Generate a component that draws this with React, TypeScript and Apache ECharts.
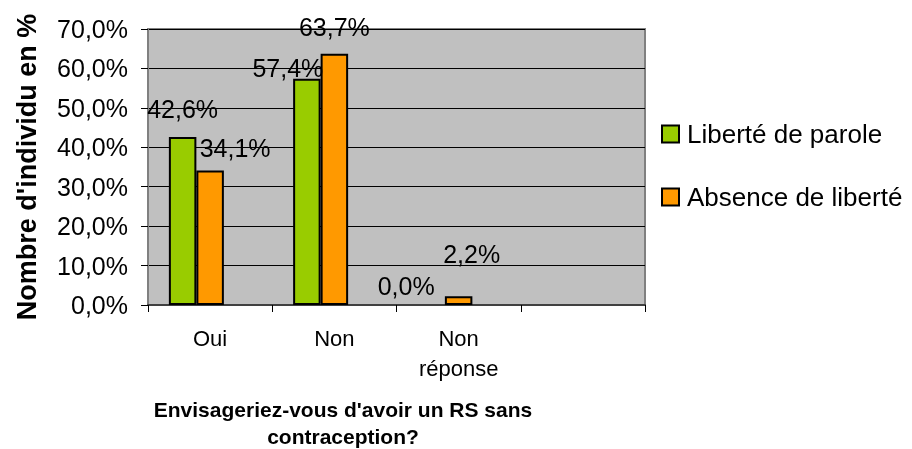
import React, { useEffect, useRef } from "react";
import * as echarts from "echarts";

const categories = ["Oui", "Non", "Non\nréponse", ""];
const seriesNames = ["Liberté de parole", "Absence de liberté"];
const liberteParole = [42.6, 57.4, 0.0, null];
const absenceLiberte = [34.1, 63.7, 2.2, null];
const hiddenSeries = [null, null, null, null];
const yTicks = { min: 0, max: 70, interval: 10 };
const yAxisTitle = "Nombre d'individu en %";
const xAxisTitle = "Envisageriez-vous d'avoir un RS sans\ncontraception?";

// label nudges (style only)
const greenLabelOffsets = [[0, -11], [-19, 7], [-25, -2], [0, 0]];
const orangeLabelOffsets = [[25, -5], [0, -9], [13, -25], [0, 0]];

const FONT = "'Liberation Sans', Arial, sans-serif";
const fmt = (v: number) => v.toFixed(1).replace(".", ",") + "%";

export default function App() {
  const ref = useRef<HTMLDivElement>(null);
  useEffect(() => {
    if (!ref.current) return;
    const chart = echarts.init(ref.current, undefined, { renderer: "svg" });
    const mk = (vals: (number | null)[], offs: number[][]) =>
      vals.map((v, i) =>
        v === null
          ? null
          : {
              value: v,
              label: { offset: offs[i] },
              itemStyle: v === 0 ? { borderWidth: 0 } : undefined,
            }
      );
    const labelBase = {
      show: true,
      position: "top",
      distance: 5,
      fontFamily: FONT,
      fontSize: 25,
      color: "#000",
      formatter: (p: any) => fmt(p.value),
    };
    chart.setOption({
      animation: false,
      textStyle: { fontFamily: FONT },
      grid: {
        left: 148,
        top: 29,
        width: 497,
        height: 276,
        containLabel: false,
        outerBoundsMode: "none",
        show: true,
        backgroundColor: "#C0C0C0",
        borderColor: "#808080",
        borderWidth: 2,
      },
      legend: {
        data: seriesNames,
        orient: "vertical",
        left: 661,
        top: 121,
        padding: 0,
        itemWidth: 17,
        itemHeight: 17,
        itemGap: 37,
        icon: "rect",
        textStyle: { fontFamily: FONT, fontSize: 26, color: "#000", padding: [0, 0, 0, 3] },
      },
      xAxis: {
        type: "category",
        data: categories,
        axisLine: { show: true, lineStyle: { color: "#404040", width: 2 } },
        axisTick: { show: true, length: 7, lineStyle: { color: "#000" } },
        axisLabel: {
          fontFamily: FONT,
          fontSize: 22,
          lineHeight: 30,
          margin: 18,
          color: "#000",
          interval: 0,
        },
      },
      yAxis: {
        type: "value",
        min: yTicks.min,
        max: yTicks.max,
        interval: yTicks.interval,
        name: yAxisTitle,
        nameLocation: "middle",
        nameGap: 108,
        nameTextStyle: { fontFamily: FONT, fontSize: 27, fontWeight: "bold", color: "#000" },
        axisLine: { show: true, lineStyle: { color: "#808080", width: 1 } },
        axisTick: { show: true, length: 7, lineStyle: { color: "#000" } },
        axisLabel: {
          fontFamily: FONT,
          fontSize: 25,
          margin: 20,
          color: "#000",
          formatter: (v: number) => fmt(v),
        },
        splitLine: { show: true, lineStyle: { color: "#000", width: 1 } },
      },
      graphic: [
        {
          type: "text",
          style: {
            text: xAxisTitle,
            x: 343,
            y: 423,
            fontFamily: FONT,
            fontSize: 21,
            fontWeight: "bold",
            lineHeight: 27,
            fill: "#000",
            align: "center",
            verticalAlign: "middle",
          },
        },
      ],
      series: [
        {
          name: seriesNames[0],
          type: "bar",
          data: mk(liberteParole, greenLabelOffsets),
          barWidth: 27.5,
          barGap: "0%",
          itemStyle: { color: "#99CC00", borderColor: "#000", borderWidth: 2 },
          label: labelBase,
        },
        {
          name: seriesNames[1],
          type: "bar",
          data: mk(absenceLiberte, orangeLabelOffsets),
          barWidth: 27.5,
          barGap: "0%",
          itemStyle: { color: "#FF9900", borderColor: "#000", borderWidth: 2 },
          label: labelBase,
        },
        {
          name: "_hidden",
          type: "bar",
          data: hiddenSeries,
          barWidth: 27.5,
          barGap: "0%",
          itemStyle: { color: "transparent" },
        },
      ],
    });
    return () => chart.dispose();
  }, []);
  return (
    <div
      ref={ref}
      style={{ position: "fixed", left: 0, top: 0, width: 912, height: 449 }}
    />
  );
}
